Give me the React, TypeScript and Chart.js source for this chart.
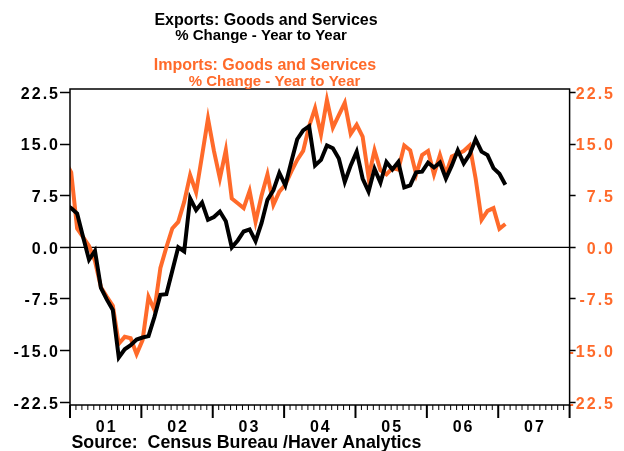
import React, { useEffect, useRef } from 'react';
import { Chart, registerables } from 'chart.js';
Chart.register(...registerables);

// Monthly % change year to year, Dec 2000 .. Feb 2007
const firstMonthIndex = -1; // Dec 2000 relative to Jan 2001
const exportsYoY = [
  6.2,
  5.7, 4.9, 1.5, -1.8, -0.5, -5.9, -7.6, -9.1, -16.0, -14.8, -14.2, -13.4,
  -13.1, -12.9, -10.1, -6.9, -6.8, -3.4, 0.0, -0.6, 7.1, 5.4, 6.5, 4.0,
  4.4, 5.2, 3.8, 0.0, 1.0, 2.3, 2.6, 0.9, 3.5, 6.9, 8.3, 10.8,
  9.0, 12.4, 15.7, 17.0, 17.6, 11.9, 12.7, 14.8, 14.4, 12.9, 9.5, 11.9,
  13.9, 10.0, 8.1, 11.4, 9.4, 12.4, 11.3, 12.4, 8.7, 9.0, 10.9, 11.0,
  12.3, 11.6, 12.3, 10.0, 11.9, 14.1, 12.2, 13.5, 15.7, 13.9, 13.4, 11.5,
  10.7, 9.1,
];
const importsYoY = [
  12.5,
  10.9, 2.75, 1.5, 0.2, -2.0, -5.8, -7.2, -8.5, -14.0, -13.0, -13.2, -15.5,
  -13.5, -7.2, -9.1, -3.0, 0.0, 2.75, 3.7, 6.6, 10.5, 8.0, 13.3, 18.7,
  14.0, 10.0, 14.1, 7.1, 6.4, 5.7, 8.2, 3.7, 7.5, 10.6, 6.2, 8.1,
  9.1, 11.0, 12.7, 14.0, 17.6, 20.2, 16.4, 21.4, 17.4, 19.2, 21.0, 16.5,
  17.8, 16.1, 10.2, 14.1, 11.2, 10.6, 11.5, 11.3, 14.8, 14.1, 10.6, 13.4,
  14.0, 10.6, 13.4, 10.6, 13.2, 13.6, 14.0, 14.8, 10.0, 4.0, 5.3, 5.7,
  2.7, 3.4,
];
const yearLabels = ['01', '02', '03', '04', '05', '06', '07'];
const yTickValues = [-22.5, -15, -7.5, 0, 7.5, 15, 22.5];

const BLACK = '#000000';
const ORANGE = '#FF6A2A';
const FONT = '"Liberation Sans", Arial, sans-serif';
const POINT_OFFSET = 0.2;

const toPoints = (arr: number[]) =>
  arr.map((v, i) => ({ x: firstMonthIndex + i + POINT_OFFSET, y: v }));

const overlay = {
  id: 'overlay',
  beforeDraw(chart: any) {
    const ctx = chart.ctx;
    ctx.save();
    ctx.fillStyle = '#fff';
    ctx.fillRect(0, 0, chart.width, chart.height);
    ctx.restore();
    (ctx as any).letterSpacing = '2px';
  },
  beforeDatasetsDraw(chart: any) {
    const { ctx, chartArea: a, scales } = chart;
    const y0 = scales.y.getPixelForValue(0);
    ctx.save();
    ctx.strokeStyle = BLACK;
    ctx.lineWidth = 1.2;
    ctx.beginPath();
    ctx.moveTo(a.left, y0);
    ctx.lineTo(a.right, y0);
    ctx.stroke();
    ctx.restore();
  },
  afterDraw(chart: any) {
    const { ctx, chartArea: a, scales } = chart;
    const xs = scales.x;
    ctx.save();
    ctx.strokeStyle = BLACK;
    ctx.lineWidth = 1.5;
    ctx.strokeRect(a.left, a.top, a.right - a.left, a.bottom - a.top);
    // x ticks (monthly minor, yearly major)
    for (let m = 0; m <= yearLabels.length * 12; m++) {
      const px = xs.getPixelForValue(m);
      const major = m % 12 === 0;
      ctx.lineWidth = major ? 2 : 1;
      ctx.beginPath();
      ctx.moveTo(px, a.bottom);
      ctx.lineTo(px, a.bottom + (major ? 13 : 5));
      ctx.stroke();
    }
    // year labels
    (ctx as any).letterSpacing = '2px';
    ctx.fillStyle = BLACK;
    ctx.font = `bold 16px ${FONT}`;
    ctx.textAlign = 'center';
    ctx.textBaseline = 'alphabetic';
    yearLabels.forEach((lab, i) => {
      ctx.fillText(lab, xs.getPixelForValue(i * 12 + 6) + 1, 432);
    });
    // source
    (ctx as any).letterSpacing = '0px';
    ctx.textAlign = 'left';
    ctx.font = `bold 17.8px ${FONT}`;
    ctx.fillText('Source:  Census Bureau /Haver Analytics', 71.5, 448);
    // titles
    ctx.textAlign = 'center';
    ctx.font = `bold 16px ${FONT}`;
    ctx.fillStyle = BLACK;
    ctx.fillText('Exports: Goods and Services', 266, 25);
    ctx.font = `bold 15px ${FONT}`;
    ctx.fillText('% Change - Year to Year', 261, 40);
    ctx.fillStyle = ORANGE;
    ctx.font = `bold 16px ${FONT}`;
    ctx.fillText('Imports: Goods and Services', 265, 70);
    ctx.font = `bold 15px ${FONT}`;
    ctx.fillText('% Change - Year to Year', 274.5, 85.5);
    ctx.restore();
  },
};

export default function App() {
  const ref = useRef<HTMLCanvasElement | null>(null);
  useEffect(() => {
    document.body.style.margin = '0';
    const canvas = ref.current!;
    const yCommon = {
      min: -22.9,
      max: 23,
      afterBuildTicks: (s: any) => {
        s.ticks = yTickValues.map((v) => ({ value: v }));
      },
    };
    const chart = new Chart(canvas, {
      type: 'line',
      data: {
        datasets: [
          {
            label: 'Exports',
            data: toPoints(exportsYoY),
            borderColor: BLACK,
            borderWidth: 4,
            pointRadius: 0,
            tension: 0,
            fill: false,
            clip: 0,
            yAxisID: 'y',
          },
          {
            label: 'Imports',
            data: toPoints(importsYoY),
            borderColor: ORANGE,
            borderWidth: 4,
            pointRadius: 0,
            tension: 0,
            fill: false,
            clip: 0,
            yAxisID: 'y2',
          },
        ],
      },
      options: {
        responsive: false,
        animation: false,
        layout: { padding: { top: 89, bottom: 46, left: 0, right: 9 } },
        plugins: { legend: { display: false }, tooltip: { enabled: false }, title: { display: false } },
        scales: {
          x: { type: 'linear', min: 0, max: 84, display: false },
          y: {
            ...yCommon,
            position: 'left',
            afterFit: (s: any) => {
              s.width = 70;
            },
            grid: { drawOnChartArea: false, drawTicks: true, tickLength: 10, color: BLACK, tickWidth: 1.5 },
            border: { display: false },
            ticks: {
              color: BLACK,
              padding: 0,
              labelOffset: 2,
              font: { family: FONT, size: 16, weight: 'bold' },
              callback: (v: any) => Number(v).toFixed(1),
            },
          },
          y2: {
            ...yCommon,
            position: 'right',
            afterFit: (s: any) => {
              s.width = 45.4;
            },
            grid: { drawOnChartArea: false, drawTicks: true, tickLength: 6, color: BLACK, tickWidth: 1.5 },
            border: { display: false },
            ticks: {
              color: ORANGE,
              padding: 0,
              crossAlign: 'far',
              labelOffset: 2,
              font: { family: FONT, size: 16, weight: 'bold' },
              callback: (v: any) => Number(v).toFixed(1),
            },
          },
        },
      },
      plugins: [overlay],
    } as any);
    return () => chart.destroy();
  }, []);
  return (
    <div style={{ position: 'absolute', left: 0, top: 0, width: 624, height: 451 }}>
      <canvas ref={ref} width={624} height={451} style={{ display: 'block' }} />
    </div>
  );
}
